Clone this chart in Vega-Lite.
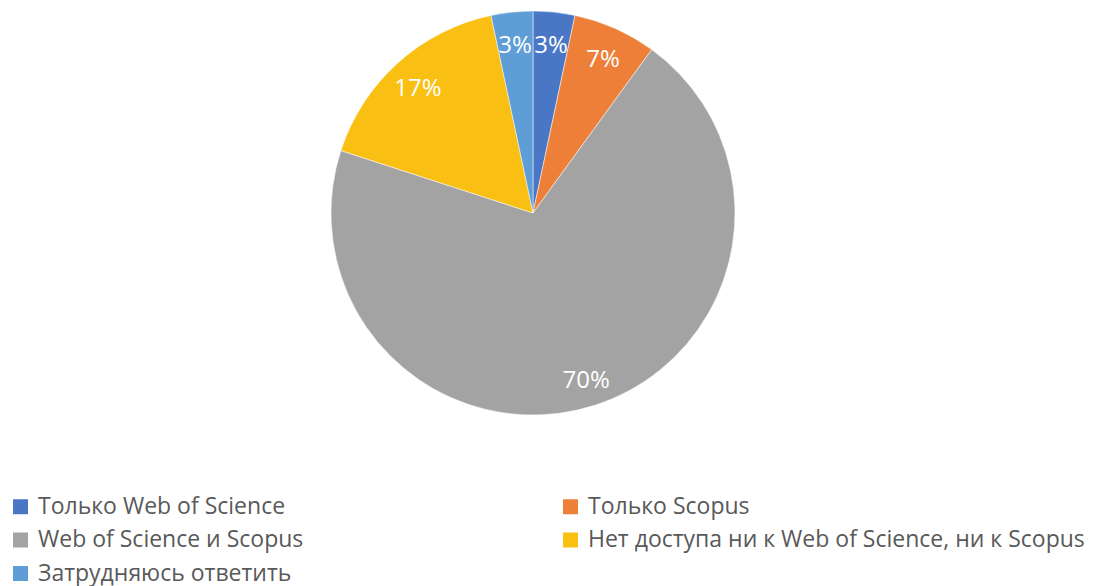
{
  "$schema": "https://vega.github.io/schema/vega-lite/v6.json",
  "width": 1066,
  "height": 426,
  "padding": 0,
  "background": "white",
  "config": {"view": {"stroke": null}, "font": "Open Sans"},
  "data": {"values": [
    {"cat": "Только Web of Science", "value": 1, "label": "3%", "ord": 1},
    {"cat": "Только Scopus", "value": 2, "label": "7%", "ord": 2},
    {"cat": "Web of Science и Scopus", "value": 21, "label": "70%", "ord": 3},
    {"cat": "Нет доступа ни к Web of Science, ни к Scopus", "value": 5, "label": "17%", "ord": 4},
    {"cat": "Затрудняюсь ответить", "value": 1, "label": "3%", "ord": 5}
  ]},
  "encoding": {
    "theta": {"field": "value", "type": "quantitative", "stack": true},
    "order": {"field": "ord", "type": "quantitative"}
  },
  "layer": [
    {
      "mark": {"type": "arc", "outerRadius": 202, "stroke": "white", "strokeWidth": 0.5},
      "encoding": {
        "color": {
          "field": "cat", "type": "nominal",
          "scale": {
            "domain": ["Только Web of Science", "Только Scopus", "Web of Science и Scopus", "Нет доступа ни к Web of Science, ни к Scopus", "Затрудняюсь ответить"],
            "range": ["#4A76C6", "#EE7F38", "#A3A3A3", "#FABF13", "#5E9DD6"]
          },
          "legend": {
            "title": null,
            "orient": "none",
            "legendX": 9,
            "legendY": 495,
            "direction": "horizontal",
            "columns": 2,
            "columnPadding": 255,
            "rowPadding": 9.5,
            "symbolType": "square",
            "symbolSize": 225,
            "symbolStrokeWidth": 0,
            "labelFont": "Open Sans",
            "labelFontSize": 23,
            "labelColor": "#595959",
            "labelLimit": 600,
            "labelOffset": 6
          }
        }
      }
    },
    {
      "mark": {"type": "text", "radius": 172, "fontSize": 24, "color": "white", "font": "Open Sans", "dy": 4},
      "encoding": {"text": {"field": "label", "type": "nominal"}}
    }
  ]
}
